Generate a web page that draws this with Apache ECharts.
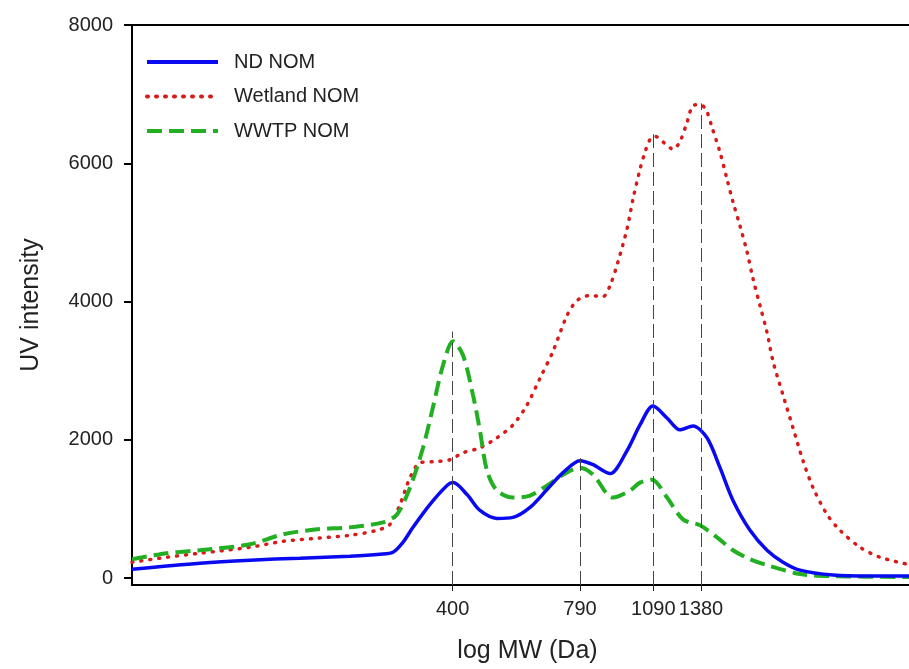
<!DOCTYPE html>
<html>
<head>
<meta charset="utf-8">
<script src="https://cdn.jsdelivr.net/npm/echarts@6/dist/echarts.min.js"></script>
<style>
  html, body { margin: 0; padding: 0; background: #fff; }
  #chart { width: 909px; height: 669px; }
</style>
</head>
<body>
<div id="chart"></div>
<script>
// x is the position along the elution axis (arbitrary units), labelled by MW at the marked peaks
const tickPos = [320.6, 448, 521.3, 569]
const tickLabels = ['400', '790', '1090', '1380']
const peakTop = [3566, 1736, 6420, 6866]

const yTicks = [0, 2000, 4000, 6000, 8000]

const ndX = [0, 68, 118, 168, 218, 248, 261, 271, 281, 298, 315, 321, 335, 348, 365, 381, 398, 415, 431, 448,
  461, 478, 495, 508, 521, 535, 548, 561, 575, 588, 601, 618, 635, 651, 668, 701, 738, 777]
const ndY = [129, 216, 259, 288, 317, 345, 374, 518, 734, 1065, 1338, 1381, 1209, 978, 863, 878, 1022, 1281, 1525, 1698,
  1640, 1511, 1842, 2216, 2489, 2316, 2144, 2201, 2029, 1597, 1122, 691, 403, 230, 115, 43, 29, 29]

const wetX = [0, 35, 68, 118, 151, 185, 218, 245, 258, 268, 278, 288, 301, 318, 331, 348, 365, 381, 395, 408,
  421, 435, 445, 458, 471, 478, 486, 495, 501, 508, 513, 518, 523, 535, 541, 548, 555, 561, 568, 574,
  580, 588, 595, 601, 608, 615, 621, 628, 635, 641, 651, 661, 671, 681, 695, 708, 728, 748, 775]
const wetY = [230, 302, 360, 446, 532, 576, 619, 691, 777, 1065, 1453, 1669, 1683, 1712, 1813, 1885, 2029, 2216, 2504, 2892,
  3280, 3798, 4014, 4086, 4072, 4230, 4575, 5050, 5482, 5913, 6158, 6345, 6388, 6259, 6201, 6316, 6590, 6834, 6849, 6777,
  6518, 6158, 5770, 5439, 5094, 4719, 4331, 3942, 3554, 3137, 2647, 2173, 1698, 1309, 921, 691, 446, 302, 201]

const wwtpX = [0, 35, 68, 118, 151, 185, 218, 251, 265, 278, 291, 301, 311, 321, 331, 341, 348, 355, 365, 381,
  398, 415, 431, 448, 461, 481, 498, 508, 520, 535, 551, 568, 585, 601, 618, 635, 668, 701, 777]
const wwtpY = [273, 360, 403, 489, 633, 705, 734, 806, 921, 1309, 1885, 2475, 3079, 3424, 3223, 2647, 2129, 1554, 1266, 1165,
  1194, 1338, 1496, 1597, 1496, 1165, 1266, 1381, 1424, 1165, 849, 763, 590, 403, 273, 187, 58, 29, 14]

const X_MIN = 0
const X_MAX = 777
const Y_MIN = -100
const Y_MAX = 8000

const FONT = '"Liberation Sans", Arial, sans-serif'

function zip(xs, ys) {
  return xs.map((x, i) => [x, ys[i]])
}

const chart = echarts.init(document.getElementById('chart'), null, { renderer: 'canvas' })

chart.setOption({
  animation: false,
  backgroundColor: '#fff',
  textStyle: { fontFamily: FONT },
  grid: { left: 132, right: 0, top: 25, bottom: 82, containLabel: false },
  legend: {
    orient: 'vertical',
    left: 145,
    top: 52,
    padding: 0,
    itemWidth: 71,
    itemHeight: 20,
    itemGap: 14.5,
    itemStyle: { opacity: 0 },
    lineStyle: { width: 4 },
    data: ['ND NOM', 'Wetland NOM', 'WWTP NOM'],
    textStyle: { fontFamily: FONT, fontSize: 20, color: '#222', padding: [0, 0, 0, 11], lineHeight: 20 }
  },
  xAxis: [
    {
      type: 'value',
      min: X_MIN,
      max: X_MAX,
      name: 'log MW (Da)',
      nameLocation: 'middle',
      nameGap: 54,
      nameTextStyle: { fontFamily: FONT, fontSize: 25, color: '#222', padding: [0, 0, 0, 14] },
      axisLine: { show: true, onZero: false, lineStyle: { color: '#000', width: 2 } },
      axisTick: { show: true, length: 6, customValues: tickPos, lineStyle: { color: '#222', width: 1 } },
      axisLabel: {
        customValues: tickPos,
        margin: 14,
        fontFamily: FONT,
        fontSize: 20,
        color: '#222',
        formatter: (v) => {
          const i = tickPos.findIndex((p) => Math.abs(p - v) < 0.01)
          return i >= 0 ? tickLabels[i] : ''
        }
      },
      splitLine: { show: false }
    },
    {
      type: 'value',
      position: 'top',
      min: X_MIN,
      max: X_MAX,
      axisLine: { show: true, onZero: false, lineStyle: { color: '#000', width: 2 } },
      axisTick: { show: false },
      axisLabel: { show: false },
      splitLine: { show: false }
    }
  ],
  yAxis: {
    type: 'value',
    min: Y_MIN,
    max: Y_MAX,
    name: 'UV intensity',
    nameLocation: 'middle',
    nameGap: 88,
    nameTextStyle: { fontFamily: FONT, fontSize: 25, color: '#222' },
    axisLine: { show: true, onZero: false, lineStyle: { color: '#000', width: 2 } },
    axisTick: { show: true, length: 8, customValues: yTicks, lineStyle: { color: '#000', width: 2 } },
    axisLabel: {
      customValues: yTicks,
      margin: 19,
      fontFamily: FONT,
      fontSize: 20,
      color: '#222',
      formatter: (v) => String(v)
    },
    splitLine: { show: false }
  },
  series: [
    {
      name: 'peaks',
      type: 'line',
      data: [],
      silent: true,
      markLine: {
        silent: true,
        symbol: 'none',
        label: { show: false },
        lineStyle: { color: '#444', width: 1, type: [14, 5] },
        data: tickPos.map((x, i) => [
          { coord: [x, Y_MIN] },
          { coord: [x, peakTop[i]] }
        ])
      }
    },
    {
      name: 'Wetland NOM',
      type: 'line',
      data: zip(wetX, wetY),
      smooth: 0.3,
      symbol: 'none',
      lineStyle: { color: '#d81a1a', width: 3.5, type: [1, 8], cap: 'round' },
      itemStyle: { color: '#d81a1a' }
    },
    {
      name: 'WWTP NOM',
      type: 'line',
      data: zip(wwtpX, wwtpY),
      smooth: 0.3,
      symbol: 'none',
      lineStyle: { color: '#22b022', width: 4, type: [15, 7] },
      itemStyle: { color: '#22b022' }
    },
    {
      name: 'ND NOM',
      type: 'line',
      data: zip(ndX, ndY),
      smooth: 0.3,
      symbol: 'none',
      lineStyle: { color: '#0a0af0', width: 3.5 },
      itemStyle: { color: '#0a0af0' }
    }
  ]
})

window.addEventListener('resize', () => chart.resize())
</script>
</body>
</html>
